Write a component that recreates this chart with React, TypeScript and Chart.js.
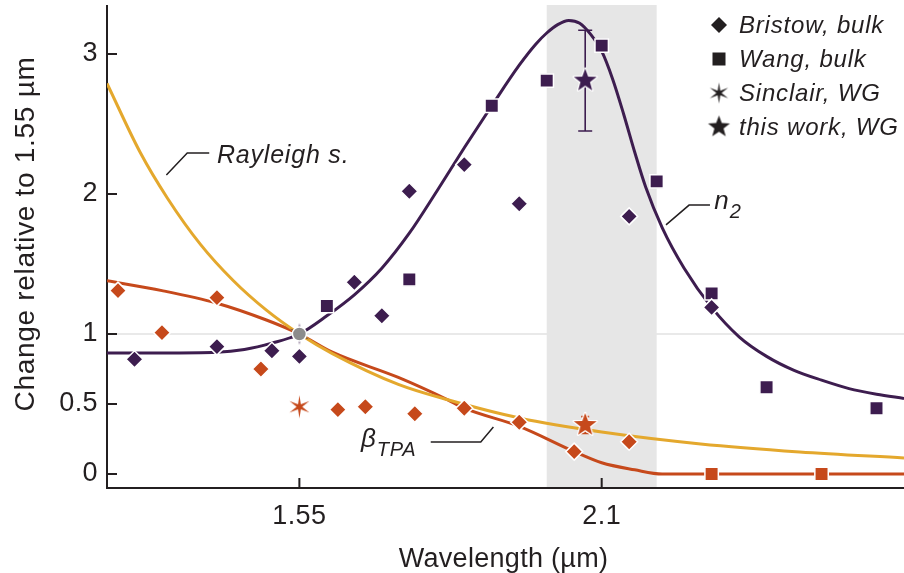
import React, { useEffect, useRef } from 'react';
import { Chart, registerables } from 'chart.js';

Chart.register(...registerables);

const FONT = '"Liberation Sans", Arial, Helvetica, sans-serif';
const INK = '#231f20';
const PURPLE = '#3d1d4f';
const ORANGE = '#c6491b';
const YELLOW = '#e4a82d';
const GRAY_PT = '#8c8c8c';
const BAND = '#e6e6e6';

// axes
const xMin = 1.2;
const xMax = 2.65;
const yMin = -0.1;
const yMax = 3.35;
const xTickValues = [1.55, 2.1];
const xTickLabels = ['1.55', '2.1'];
const yTickValues = [0, 0.5, 1, 2, 3];
const yTickLabels = ['0', '0.5', '1', '2', '3'];
const xTitle = 'Wavelength (µm)';
const yTitle = 'Change relative to 1.55 µm';
const legendLabels = ['Bristow, bulk', 'Wang, bulk', 'Sinclair, WG', 'this work, WG'];
const bandRange = [2.0, 2.2];
const referenceLevel = 1;
const rayleighLabel = 'Rayleigh s.';
const n2Label = ['n', '2'];
const betaLabel = ['β', 'TPA'];

// fitted curves
const n2CurveX = [1.2, 1.3, 1.4, 1.45, 1.5, 1.55, 1.6, 1.65, 1.7, 1.75, 1.8, 1.85, 1.9, 1.95, 1.98, 2.0, 2.02, 2.04, 2.06, 2.08, 2.1, 2.12, 2.14, 2.16, 2.18, 2.21, 2.25, 2.3, 2.35, 2.4, 2.45, 2.5, 2.55, 2.6, 2.65];
const n2CurveY = [0.865, 0.865, 0.87, 0.89, 0.935, 1.0, 1.13, 1.28, 1.47, 1.72, 2.02, 2.33, 2.63, 2.92, 3.07, 3.15, 3.21, 3.24, 3.22, 3.14, 3.02, 2.82, 2.57, 2.3, 2.05, 1.76, 1.47, 1.19, 0.98, 0.84, 0.74, 0.67, 0.61, 0.57, 0.54];

const betaCurveX = [1.2, 1.3, 1.4, 1.49, 1.55, 1.61, 1.73, 1.82, 1.85, 1.95, 2.05, 2.1, 2.16, 2.21, 2.65];
const betaCurveY = [1.38, 1.31, 1.22, 1.1, 1.0, 0.87, 0.69, 0.53, 0.47, 0.34, 0.16, 0.08, 0.03, 0.0, 0.0];

const rayleighCurveX = [1.2, 1.26, 1.31, 1.37, 1.43, 1.49, 1.55, 1.61, 1.73, 1.82, 1.95, 2.1, 2.28, 2.46, 2.65];
const rayleighCurveY = [2.79, 2.3, 1.97, 1.64, 1.38, 1.17, 1.0, 0.86, 0.64, 0.53, 0.4, 0.3, 0.215, 0.158, 0.115];

// n2 data
const n2BristowX = [1.25, 1.4, 1.5, 1.55, 1.65, 1.7, 1.75, 1.85, 1.95, 2.15, 2.3];
const n2BristowY = [0.82, 0.91, 0.88, 0.84, 1.37, 1.13, 2.02, 2.21, 1.93, 1.84, 1.19];
const n2WangX = [1.6, 1.75, 1.9, 2.0, 2.1, 2.2, 2.3, 2.4, 2.6];
const n2WangY = [1.2, 1.39, 2.63, 2.81, 3.06, 2.09, 1.29, 0.62, 0.47];
const n2SinclairX = [1.55];
const n2SinclairY = [1.0];
const n2ThisWorkX = [2.07];
const n2ThisWorkY = [2.81];
const n2ThisWorkErr = [0.36];

// beta TPA data
const betaBristowX = [1.22, 1.3, 1.4, 1.48, 1.62, 1.67, 1.76, 1.85, 1.95, 2.05, 2.15];
const betaBristowY = [1.31, 1.01, 1.26, 0.75, 0.46, 0.48, 0.43, 0.47, 0.37, 0.16, 0.23];
const betaWangX = [2.3, 2.5];
const betaWangY = [0, 0];
const betaSinclairX = [1.55];
const betaSinclairY = [0.48];
const betaThisWorkX = [2.07];
const betaThisWorkY = [0.35];
const betaThisWorkErr = [0.06];

// normalisation point
const refX = [1.55];
const refY = [1.0];

const pts = (xs: number[], ys: number[]) => xs.map((x, i) => ({ x, y: ys[i] }));

function makeStar(color: string, outer: number, inner: number, points: number, stroke: string | null, lw: number) {
  const pad = 3;
  const size = Math.ceil(outer * 2 + pad * 2);
  const c = document.createElement('canvas');
  c.width = size;
  c.height = size;
  const g = c.getContext('2d')!;
  g.translate(size / 2, size / 2);
  g.beginPath();
  for (let i = 0; i < points * 2; i++) {
    const r = i % 2 === 0 ? outer : inner;
    const a = -Math.PI / 2 + (i * Math.PI) / points;
    const px = r * Math.cos(a);
    const py = r * Math.sin(a);
    if (i === 0) g.moveTo(px, py);
    else g.lineTo(px, py);
  }
  g.closePath();
  if (stroke) {
    g.lineWidth = lw;
    g.strokeStyle = stroke;
    g.lineJoin = 'round';
    g.stroke();
  }
  g.fillStyle = color;
  g.fill();
  return c;
}

const zeroPad = (s: any) => {
  s.paddingTop = 0;
  s.paddingBottom = 0;
  s.paddingLeft = 0;
  s.paddingRight = 0;
};

export default function App() {
  const ref = useRef<HTMLCanvasElement>(null);

  useEffect(() => {
    document.body.style.margin = '0';
    const canvas = ref.current!;

    const starPurple = makeStar(PURPLE, 12, 5, 5, '#ffffff', 2.5);
    const starOrange = makeStar(ORANGE, 12, 5, 5, '#ffffff', 2.5);
    const astPurple = makeStar(PURPLE, 11, 2.6, 6, null, 0);
    const astOrange = makeStar(ORANGE, 11.5, 2.8, 6, '#ffffff', 1.5);
    const legendStar = makeStar(INK, 11.5, 4.8, 5, null, 0);
    const legendAst = makeStar(INK, 10.5, 2.6, 6, null, 0);

    const curve = (xs: number[], ys: number[], color: string) => ({
      data: pts(xs, ys),
      showLine: true,
      borderColor: color,
      borderWidth: 3,
      pointRadius: 0,
      cubicInterpolationMode: 'monotone' as const,
      order: 10,
    });
    const marks = (xs: number[], ys: number[], color: string, style: any, radius: number, order = 2) => ({
      data: pts(xs, ys),
      showLine: false,
      backgroundColor: color,
      borderColor: '#ffffff',
      borderWidth: 1.5,
      pointStyle: style,
      pointRadius: radius,
      order,
    });

    const decor = {
      id: 'decor',
      beforeDraw(chart: any) {
        chart.ctx.letterSpacing = '0.4px';
      },
      beforeDatasetsDraw(chart: any) {
        const { ctx, chartArea: a, scales } = chart;
        const xs = scales.x;
        const ys = scales.y;
        ctx.save();
        const yr = ys.getPixelForValue(referenceLevel);
        ctx.strokeStyle = '#e2e2e2';
        ctx.lineWidth = 1.5;
        ctx.beginPath();
        ctx.moveTo(a.left, yr);
        ctx.lineTo(a.right, yr);
        ctx.stroke();
        const b0 = xs.getPixelForValue(bandRange[0]);
        const b1 = xs.getPixelForValue(bandRange[1]);
        ctx.fillStyle = BAND;
        ctx.fillRect(b0, a.top, b1 - b0, a.bottom - a.top);
        ctx.strokeStyle = INK;
        ctx.lineWidth = 2;
        ctx.beginPath();
        ctx.moveTo(a.left, a.top);
        ctx.lineTo(a.left, a.bottom);
        ctx.lineTo(a.right, a.bottom);
        ctx.stroke();
        ctx.beginPath();
        yTickValues.forEach((v) => {
          const p = ys.getPixelForValue(v);
          ctx.moveTo(a.left, p);
          ctx.lineTo(a.left + 10, p);
        });
        xTickValues.forEach((v) => {
          const p = xs.getPixelForValue(v);
          ctx.moveTo(p, a.bottom);
          ctx.lineTo(p, a.bottom - 10);
        });
        ctx.stroke();
        const err = (xv: number[], yv: number[], ev: number[], color: string, cap: number) => {
          ctx.strokeStyle = color;
          ctx.lineWidth = 1.6;
          xv.forEach((xx, i) => {
            const px = xs.getPixelForValue(xx);
            const top = ys.getPixelForValue(yv[i] + ev[i]);
            const bot = ys.getPixelForValue(yv[i] - ev[i]);
            ctx.beginPath();
            ctx.moveTo(px, top);
            ctx.lineTo(px, bot);
            ctx.moveTo(px - cap, top);
            ctx.lineTo(px + cap, top);
            ctx.moveTo(px - cap, bot);
            ctx.lineTo(px + cap, bot);
            ctx.stroke();
          });
        };
        err(n2ThisWorkX, n2ThisWorkY, n2ThisWorkErr, PURPLE, 7);
        err(betaThisWorkX, betaThisWorkY, betaThisWorkErr, ORANGE, 4);
        ctx.restore();
      },
      afterDraw(chart: any) {
        const { ctx, chartArea: a, scales } = chart;
        const xs = scales.x;
        const ys = scales.y;
        const X = (v: number) => xs.getPixelForValue(v);
        const Y = (v: number) => ys.getPixelForValue(v);
        ctx.save();
        ctx.fillStyle = INK;
        ctx.strokeStyle = INK;
        ctx.lineWidth = 1.5;

        // axis titles
        ctx.letterSpacing = '0.3px';
        ctx.font = `27px ${FONT}`;
        ctx.textAlign = 'center';
        ctx.textBaseline = 'alphabetic';
        ctx.fillText(xTitle, (a.left + a.right) / 2 - 2, 567);
        ctx.save();
        ctx.letterSpacing = '0.7px';
        ctx.font = `28px ${FONT}`;
        ctx.translate(34, 234);
        ctx.rotate(-Math.PI / 2);
        ctx.fillText(yTitle, 0, 0);
        ctx.restore();

        ctx.letterSpacing = '0.8px';
        // Rayleigh annotation
        ctx.beginPath();
        ctx.moveTo(X(1.308), Y(2.136));
        ctx.lineTo(X(1.346), Y(2.293));
        ctx.lineTo(X(1.386), Y(2.293));
        ctx.stroke();
        ctx.font = `italic 25px ${FONT}`;
        ctx.textAlign = 'left';
        ctx.textBaseline = 'middle';
        ctx.fillText(rayleighLabel, X(1.4), Y(2.27));

        // n2 annotation
        ctx.beginPath();
        ctx.moveTo(X(2.217), Y(1.779));
        ctx.lineTo(X(2.259), Y(1.921));
        ctx.lineTo(X(2.297), Y(1.921));
        ctx.stroke();
        ctx.textBaseline = 'alphabetic';
        ctx.font = `italic 26px ${FONT}`;
        const nx = X(2.305);
        ctx.fillText(n2Label[0], nx, 209);
        const nw = ctx.measureText(n2Label[0]).width;
        ctx.font = `italic 20px ${FONT}`;
        ctx.fillText(n2Label[1], nx + nw, 218);

        // beta annotation
        ctx.beginPath();
        ctx.moveTo(X(1.789), Y(0.229));
        ctx.lineTo(X(1.88), Y(0.229));
        ctx.lineTo(X(1.903), Y(0.336));
        ctx.stroke();
        ctx.font = `italic 26px ${FONT}`;
        const bx = 361;
        ctx.fillText(betaLabel[0], bx, 447);
        const bw = ctx.measureText(betaLabel[0]).width;
        ctx.font = `italic 20px ${FONT}`;
        ctx.fillText(betaLabel[1], bx + bw, 456);

        // legend
        const lx = 719;
        const tx = 739;
        const rows = [25, 59, 93, 127];
        ctx.fillStyle = INK;
        ctx.beginPath();
        ctx.moveTo(lx, rows[0] - 8);
        ctx.lineTo(lx + 8, rows[0]);
        ctx.lineTo(lx, rows[0] + 8);
        ctx.lineTo(lx - 8, rows[0]);
        ctx.closePath();
        ctx.fill();
        ctx.fillRect(lx - 6.5, rows[1] - 6.5, 13, 13);
        ctx.drawImage(legendAst, lx - legendAst.width / 2, rows[2] - legendAst.height / 2);
        ctx.drawImage(legendStar, lx - legendStar.width / 2, rows[3] - legendStar.height / 2);
        ctx.font = `italic 24px ${FONT}`;
        ctx.letterSpacing = '0.8px';
        ctx.textAlign = 'left';
        ctx.textBaseline = 'middle';
        legendLabels.forEach((t, i) => ctx.fillText(t, tx, rows[i] + 1));
        ctx.restore();
      },
    };

    const chart = new Chart(canvas, {
      type: 'scatter',
      data: {
        datasets: [
          marks(refX, refY, GRAY_PT, 'circle', 7, 0) as any,
          marks(n2ThisWorkX, n2ThisWorkY, PURPLE, starPurple, 12, 1),
          marks(betaThisWorkX, betaThisWorkY, ORANGE, starOrange, 12, 1),
          marks(n2SinclairX, n2SinclairY, PURPLE, astPurple, 11, 3),
          marks(betaSinclairX, betaSinclairY, ORANGE, astOrange, 11, 2),
          marks(n2BristowX, n2BristowY, PURPLE, 'rectRot', 8.5),
          marks(n2WangX, n2WangY, PURPLE, 'rect', 9.5),
          marks(betaBristowX, betaBristowY, ORANGE, 'rectRot', 8.5),
          marks(betaWangX, betaWangY, ORANGE, 'rect', 9.5),
          curve(rayleighCurveX, rayleighCurveY, YELLOW),
          curve(betaCurveX, betaCurveY, ORANGE),
          curve(n2CurveX, n2CurveY, PURPLE),
        ],
      },
      options: {
        responsive: false,
        maintainAspectRatio: false,
        animation: false,
        events: [],
        layout: { autoPadding: false, padding: { top: 5, right: 0, bottom: 0, left: 0 } },
        plugins: { legend: { display: false }, tooltip: { enabled: false } },
        scales: {
          x: {
            type: 'linear',
            min: xMin,
            max: xMax,
            afterFit: (s: any) => {
              s.height = 85;
              zeroPad(s);
            },
            afterBuildTicks: (s: any) => {
              s.ticks = xTickValues.map((v) => ({ value: v }));
            },
            ticks: {
              autoSkip: false,
              maxRotation: 0,
              padding: 12,
              color: INK,
              font: { size: 27, family: FONT },
              callback: (_v: any, i: number) => xTickLabels[i],
            },
            grid: { display: false, drawTicks: false },
            border: { display: false },
          },
          y: {
            type: 'linear',
            min: yMin,
            max: yMax,
            afterFit: (s: any) => {
              s.width = 107;
              zeroPad(s);
            },
            afterBuildTicks: (s: any) => {
              s.ticks = yTickValues.map((v) => ({ value: v }));
            },
            ticks: {
              autoSkip: false,
              padding: 9,
              color: INK,
              font: { size: 27, family: FONT },
              callback: (_v: any, i: number) => yTickLabels[i],
            },
            grid: { display: false, drawTicks: false },
            border: { display: false },
          },
        },
      },
      plugins: [decor],
    });

    return () => chart.destroy();
  }, []);

  return (
    <div style={{ width: 904, height: 573, position: 'relative' }}>
      <canvas ref={ref} width={904} height={573} style={{ display: 'block' }} />
    </div>
  );
}
